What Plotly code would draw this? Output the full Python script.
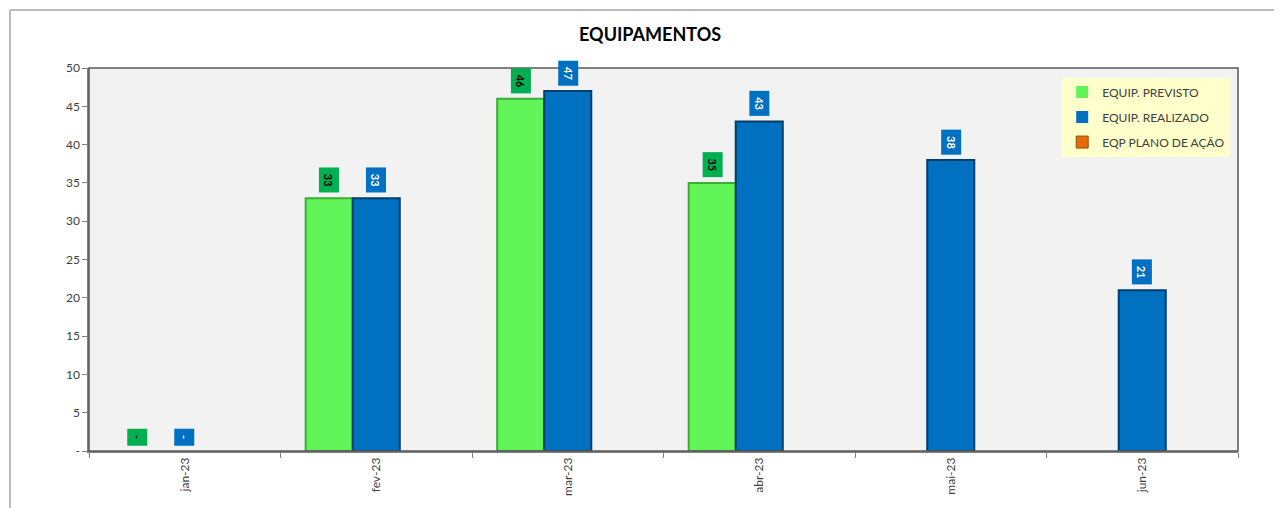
import plotly.graph_objects as go

meses = ["jan-23", "fev-23", "mar-23", "abr-23", "mai-23", "jun-23"]
previsto = [0, 33, 46, 35, None, None]
realizado = [0, 33, 47, 43, 38, 21]
plano_acao = [None, None, None, None, None, None]

VERDE = "#62F55A"
AZUL = "#0070C0"
LARANJA = "#E46C0A"
FONTE = "Lato, Open Sans, sans-serif"


def larguras(vals):
    # sem contorno quando o valor é zero
    return [0 if not v else 2 for v in vals]


fig = go.Figure()

fig.add_trace(go.Bar(x=meses, y=previsto, name="EQUIP. PREVISTO",
                     marker=dict(color=VERDE, line=dict(color="#3AAE35", width=larguras(previsto))),
                     legendgroup="a"))
fig.add_trace(go.Bar(x=meses, y=realizado, name="EQUIP. REALIZADO",
                     marker=dict(color=AZUL, line=dict(color="#003E6B", width=larguras(realizado))),
                     legendgroup="b"))
fig.add_trace(go.Bar(x=meses, y=plano_acao, name="EQP PLANO DE AÇÃO",
                     marker=dict(color=LARANJA, line=dict(color="#A04A05", width=1)),
                     legendgroup="c"))


# rótulos de dados com caixa colorida
def rotulo(v):
    return "-" if v == 0 else str(v)


for m, v in zip(meses, previsto):
    if v is None:
        continue
    fig.add_annotation(x=m, y=v, xref="x", yref="y", xshift=-47, yshift=5,
                       yanchor="bottom", showarrow=False,
                       text="&nbsp;<b>%s</b>&nbsp;" % rotulo(v), textangle=90,
                       bgcolor="#00B050", borderpad=3,
                       font=dict(family=FONTE, size=11, color="#000000"))
for m, v in zip(meses, realizado):
    if v is None:
        continue
    fig.add_annotation(x=m, y=v, xref="x", yref="y", xshift=0, yshift=5,
                       yanchor="bottom", showarrow=False,
                       text="&nbsp;<b>%s</b>&nbsp;" % rotulo(v), textangle=90,
                       bgcolor="#0070C0", borderpad=3,
                       font=dict(family=FONTE, size=11, color="#FFFFFF"))

# contorno da área de plotagem e do gráfico
fig.add_shape(type="rect", xref="x domain", yref="y domain", x0=0, x1=1, y0=0, y1=1,
              line=dict(color="#595959", width=1.5), layer="above")
fig.add_shape(type="line", xref="paper", yref="paper", x0=-0.0688, x1=-0.0688, y0=-0.16, y1=1.1514,
              line=dict(color="#A6A6A6", width=1.5))
fig.add_shape(type="line", xref="paper", yref="paper", x0=-0.0688, x1=1.1, y0=1.1514, y1=1.1514,
              line=dict(color="#A6A6A6", width=1.5))

fig.update_layout(
    width=1274, height=500,
    margin=dict(l=81, r=44, t=60, b=57),
    paper_bgcolor="white",
    plot_bgcolor="#F2F2F2",
    barmode="group",
    bargap=0.263,
    bargroupgap=0,
    font=dict(family=FONTE, size=12, color="#404040"),
    title=dict(text="<b>EQUIPAMENTOS</b>", x=0.504, xanchor="center", y=0.946, yanchor="middle",
               font=dict(family=FONTE, size=18, color="#000000")),
    legend=dict(x=0.847, y=0.975, xanchor="left", yanchor="top",
                bgcolor="#FFFFCC", borderwidth=0,
                font=dict(family=FONTE, size=12, color="#404040"),
                traceorder="grouped", tracegroupgap=6, itemwidth=30),
    showlegend=True,
)

fig.update_xaxes(showgrid=False, tickangle=-90, tickson="boundaries",
                 ticks="outside", ticklen=5, tickcolor="#808080",
                 showline=True, linecolor="#808080", linewidth=1.5,
                 tickfont=dict(size=12, color="#404040"))
fig.update_yaxes(range=[0, 50], tickvals=[0, 5, 10, 15, 20, 25, 30, 35, 40, 45, 50],
                 ticktext=["-", "5", "10", "15", "20", "25", "30", "35", "40", "45", "50"],
                 showgrid=False, zeroline=False, ticks="outside", ticklen=5, tickcolor="#808080",
                 showline=True, linecolor="#808080", linewidth=1.5,
                 tickfont=dict(size=12, color="#404040"))

fig.write_html("out.html")
